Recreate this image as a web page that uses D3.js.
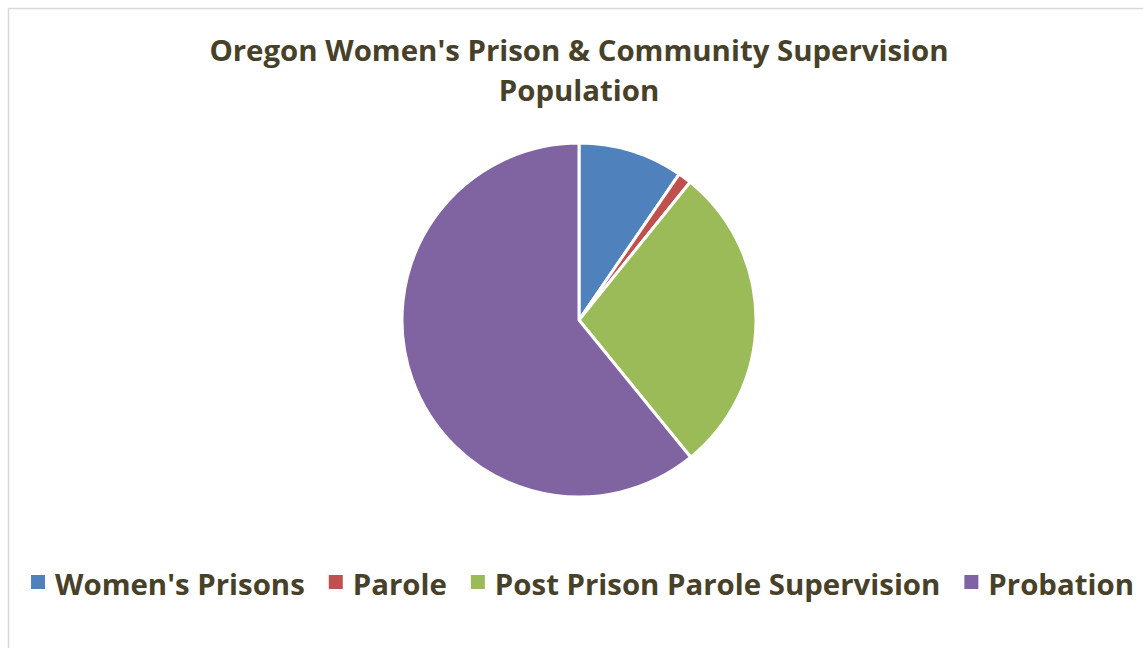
<!DOCTYPE html>
<html>
<head>
<meta charset="utf-8">
<script src="https://cdn.jsdelivr.net/npm/d3@7/dist/d3.min.js"></script>
<style>
html,body{margin:0;padding:0;background:#fff;}
svg{display:block;}
</style>
</head>
<body>
<svg id="chart" width="1143" height="648"></svg>
<script>
const categories = ["Women's Prisons", "Parole", "Post Prison Parole Supervision", "Probation"];
const values = [1250, 160, 3700, 7950];
const colors = ["#4f81bd", "#c0504d", "#9bbb59", "#8064a2"];
const titleLines = ["Oregon Women's Prison & Community Supervision", "Population"];

const W = 1143, H = 648;
const svg = d3.select("#chart");
const textColor = "#48412a";
const font = "'Open Sans', sans-serif";

svg.append("rect").attr("x", 8.5).attr("y", 8.5).attr("width", W + 20).attr("height", H + 20)
  .attr("fill", "#fff").attr("stroke", "#d9d9d9").attr("stroke-width", 1.5);

const title = svg.append("text").attr("text-anchor", "middle")
  .attr("font-family", font).attr("font-weight", 700).attr("font-size", 29.4)
  .attr("fill", textColor);
title.selectAll("tspan").data(titleLines).join("tspan")
  .attr("x", 579).attr("y", (d, i) => 61 + i * 40).text(d => d);

const cx = 579, cy = 320, r = 177;
const pie = d3.pie().sort(null).value(d => d.v);
const arc = d3.arc().innerRadius(0).outerRadius(r);
const data = categories.map((c, i) => ({c, v: values[i], col: colors[i]}));
svg.append("g").attr("transform", `translate(${cx},${cy})`)
  .selectAll("path").data(pie(data)).join("path")
  .attr("d", arc).attr("fill", d => d.data.col)
  .attr("stroke", "#fff").attr("stroke-width", 3).attr("stroke-linejoin", "round");

// legend
const lg = svg.append("g");
const items = lg.selectAll("g").data(data).join("g");
items.append("rect").attr("width", 14).attr("height", 14).attr("y", -14).attr("fill", d => d.col);
items.append("text").attr("x", 24).attr("font-family", font).attr("font-weight", 700)
  .attr("font-size", 29.4).attr("fill", textColor).attr("y", 0).attr("dy", "0.2em").text(d => d.c);
const gap = 24;
let widths = [];
items.each(function() { widths.push(this.getBBox().width); });
const total = d3.sum(widths) + gap * (widths.length - 1);
let x = (W - total) / 2 + 11;
items.each(function(d, i) {
  d3.select(this).attr("transform", `translate(${x},589)`);
  x += widths[i] + gap;
});
</script>
</body>
</html>
